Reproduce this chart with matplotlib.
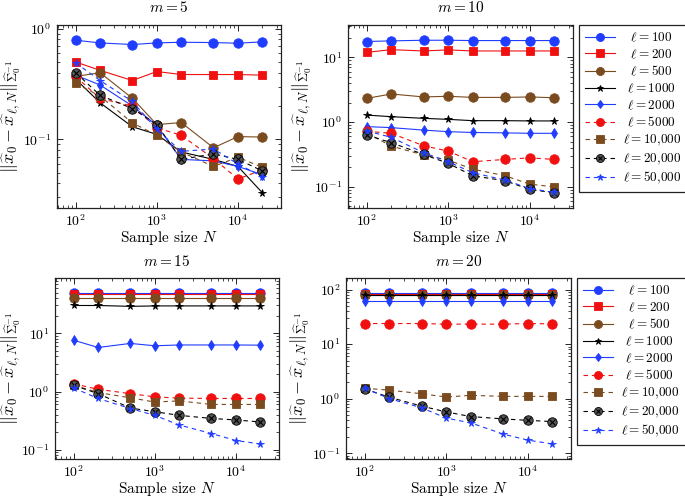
import numpy as np
import matplotlib
matplotlib.use("Agg")
import matplotlib.pyplot as plt
from matplotlib.ticker import LogLocator, NullFormatter
from matplotlib.legend_handler import HandlerTuple

plt.rcParams['font.family'] = 'cmr10'
plt.rcParams['mathtext.fontset'] = 'cm'
plt.rcParams['axes.formatter.use_mathtext'] = True
plt.rcParams['axes.unicode_minus'] = False

# sample sizes
N = [100, 200, 500, 1000, 2000, 5000, 10000, 20000]

# legend labels (ell values), padded so they sit centred like pgfplots
ell_labels = [r'$\enspace\,\ell = 100$', r'$\enspace\,\ell = 200$', r'$\enspace\,\ell = 500$',
              r'$\:\,\ell = 1000$', r'$\:\,\ell = 2000$', r'$\:\,\ell = 5000$',
              r'$\ell = 10{,}000$', r'$\ell = 20{,}000$', r'$\ell = 50{,}000$']

# error values, one row per ell (100 ... 50,000)
err_m5 = [
    [0.785, 0.743, 0.718, 0.743, 0.753, 0.748, 0.738, 0.76],
    [0.50, 0.42, 0.34, 0.41, 0.385, 0.385, 0.385, 0.38],
    [0.37, 0.40, 0.235, 0.136, 0.142, 0.084, 0.106, 0.105],
    [0.35, 0.214, 0.13, 0.111, 0.077, 0.066, 0.057, 0.033],
    [0.38, 0.31, 0.20, 0.134, 0.066, 0.064, 0.057, 0.048],
    [0.37, 0.234, 0.20, 0.127, 0.109, 0.067, 0.044, 0.053],
    [0.32, 0.246, 0.141, 0.109, 0.077, 0.057, 0.069, 0.056],
    [0.40, 0.25, 0.19, 0.136, 0.066, 0.074, 0.066, 0.052],
    [0.49, 0.34, 0.22, 0.123, 0.078, 0.082, 0.060, 0.046],
]
err_m10 = [
    [17.5, 17.9, 18.3, 18.3, 18.1, 18.1, 18.1, 18.1],
    [11.9, 13.1, 12.5, 13.0, 12.5, 12.5, 12.5, 12.5],
    [2.32, 2.71, 2.44, 2.50, 2.40, 2.40, 2.44, 2.37],
    [1.28, 1.21, 1.14, 1.10, 1.05, 1.05, 1.04, 1.04],
    [0.85, 0.82, 0.75, 0.71, 0.69, 0.68, 0.67, 0.67],
    [0.72, 0.67, 0.43, 0.356, 0.244, 0.265, 0.28, 0.265],
    [0.68, 0.425, 0.31, 0.258, 0.187, 0.148, 0.11, 0.10],
    [0.63, 0.48, 0.316, 0.23, 0.148, 0.124, 0.091, 0.081],
    [0.73, 0.58, 0.336, 0.244, 0.165, 0.127, 0.094, 0.082],
]
err_m15 = [
    [49, 49, 49, 49, 49, 49, 49, 49],
    [47, 47, 47, 47, 47, 47, 47, 47],
    [41, 41, 41, 41, 41, 41, 41, 41],
    [30, 30, 29, 29.5, 29.5, 29.5, 29.5, 29.5],
    [7.6, 5.7, 6.7, 6.1, 6.3, 6.3, 6.3, 6.25],
    [1.36, 1.09, 0.92, 0.81, 0.77, 0.76, 0.76, 0.76],
    [1.28, 0.96, 0.78, 0.66, 0.69, 0.60, 0.60, 0.60],
    [1.28, 0.92, 0.52, 0.45, 0.39, 0.345, 0.325, 0.30],
    [1.15, 0.76, 0.51, 0.39, 0.266, 0.19, 0.144, 0.126],
]
err_m20 = [
    [86, 86, 86, 86, 86, 86, 86, 86],
    [84, 84, 84, 84, 84, 84, 84, 84],
    [80, 80, 80, 80, 80, 80, 80, 80],
    [79, 79, 79, 79, 79, 79, 79, 79],
    [62.5, 62.5, 62.5, 62.5, 62.5, 62.5, 62.5, 62.5],
    [23.8, 23.8, 23.8, 23.2, 23.2, 23.2, 23.8, 23.5],
    [1.55, 1.43, 1.23, 1.07, 1.15, 1.10, 1.10, 1.10],
    [1.51, 1.06, 0.73, 0.57, 0.47, 0.425, 0.40, 0.38],
    [1.55, 1.00, 0.68, 0.44, 0.36, 0.224, 0.174, 0.148],
]

m_values = [5, 10, 15, 20]
all_err = [err_m5, err_m10, err_m15, err_m20]

blue = '#1f3cff'
red = '#f01010'
brown = '#7a4b1e'
dash = (0, (4, 3.5))
# color, marker, linestyle, markersize
styles = [
    (blue, 'o', '-', 6.8),
    (red, 's', '-', 6.3),
    (brown, 'o', '-', 6.8),
    ('black', '*', '-', 5.5),
    (blue, 'd', '-', 5),
    (red, 'o', dash, 6.8),
    (brown, 's', dash, 6.3),
    ('black', 'o', dash, 6.8),
    (blue, '*', dash, 5.5),
]

W, H = 685, 499
fig = plt.figure(figsize=(W / 100, H / 100), dpi=100)

# axes boxes in pixels: left, top, right, bottom
boxes = [(57, 25, 281, 208), (348, 25, 573, 208),
         (55, 278, 279, 459), (346, 278, 571, 459)]
# right edge (pixels) of the rotated y label
ylabel_x = [23, 314, 23, 312]
legend_pos = {1: (579, 25), 3: (577, 278)}

ylab = r'$\|\widehat{x}_0 - \widehat{x}_{\ell,N}\|_{\widehat{\Sigma}_0^{-1}}$'

for i, (m, err) in enumerate(zip(m_values, all_err)):
    l, t, r, b = boxes[i]
    ax = fig.add_axes([l / W, 1 - b / H, (r - l) / W, (b - t) / H])
    handles = []
    for k, vals in enumerate(err):
        c, mk, ls, ms = styles[k]
        if k == 7:
            line, = ax.plot(N, vals, color='black', ls=ls, lw=0.8, marker='o', ms=ms,
                            mfc='#555555', mec='black', mew=0.6)
            cross, = ax.plot(N, vals, ls='none', marker='x', ms=ms * 0.55,
                             mec='black', mew=0.8)
            handles.append((line, cross))
        else:
            line, = ax.plot(N, vals, color=c, ls=ls, lw=0.8, marker=mk, ms=ms,
                            mfc=c, mec=c, mew=0.6)
            handles.append(line)
    ax.set_xscale('log')
    ax.set_yscale('log')
    ax.margins(x=0.1, y=0.1)
    ax.set_title(r'$m = %d$' % m, fontsize=11, pad=9)
    ax.set_xlabel(r'Sample size $N$', fontsize=11, labelpad=0)
    ax.set_ylabel(ylab, fontsize=13)
    ax.yaxis.set_label_coords((ylabel_x[i] - l) / (r - l), 0.5)
    ax.tick_params(which='both', direction='in', top=True, right=True, labelsize=10)
    ax.tick_params(which='major', length=4.5, width=0.6, pad=4)
    ax.tick_params(which='minor', length=2.5, width=0.5)
    ax.xaxis.set_minor_locator(LogLocator(base=10, subs=np.arange(2, 10)))
    ax.yaxis.set_minor_locator(LogLocator(base=10, subs=np.arange(2, 10)))
    ax.yaxis.set_minor_formatter(NullFormatter())
    ax.xaxis.set_minor_formatter(NullFormatter())
    for sp in ax.spines.values():
        sp.set_linewidth(0.9)
        sp.set_color('#222222')

    if i in legend_pos:
        lx, ly = legend_pos[i]
        leg = ax.legend(handles, ell_labels, loc='upper left',
                        bbox_to_anchor=(lx / W, 1 - ly / H), bbox_transform=fig.transFigure,
                        fontsize=9.5, frameon=True, fancybox=False, framealpha=1,
                        edgecolor='#222222', borderaxespad=0, handlelength=2.3,
                        labelspacing=0.25, handletextpad=0.6, borderpad=0.45,
                        markerscale=0.85,
                        handler_map={tuple: HandlerTuple(ndivide=1, pad=0)})
        leg.get_frame().set_linewidth(0.9)

fig.savefig('out.png', dpi=100)
